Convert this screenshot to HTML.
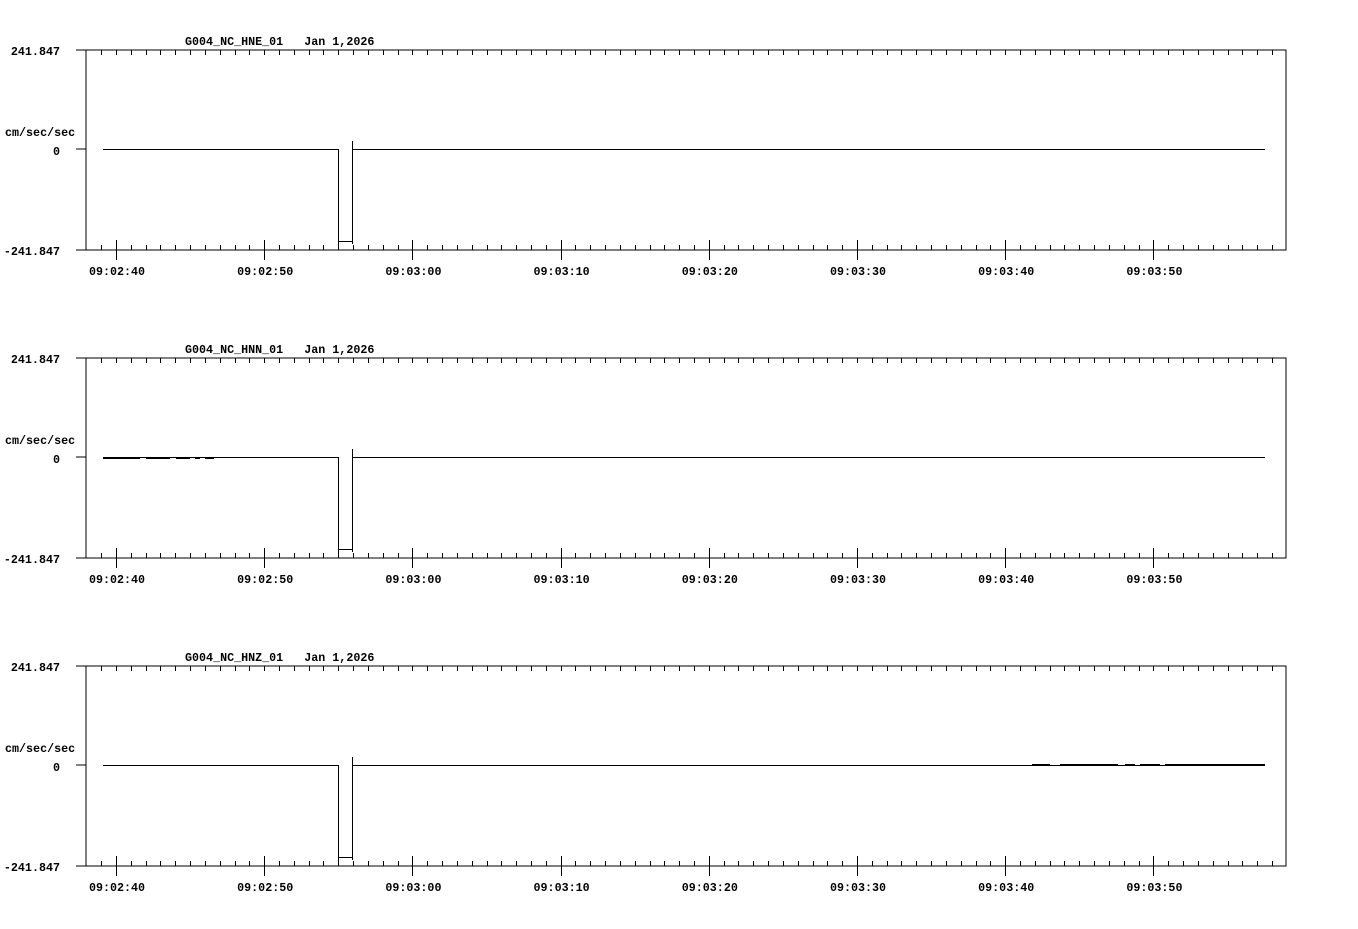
<!DOCTYPE html>
<html><head><style>
html,body{margin:0;padding:0;background:#fff;}
svg text{font-family:"Liberation Mono",monospace;font-size:11.7px;font-weight:bold;fill:#000;}
</style></head><body>
<svg id="s" width="1358" height="924" xmlns="http://www.w3.org/2000/svg" shape-rendering="crispEdges"></svg>
<script>
var s=document.getElementById('s'),h='';
var names=['HNE','HNN','HNZ'],labs=['09:02:40','09:02:50','09:03:00','09:03:10','09:03:20','09:03:30','09:03:40','09:03:50'];
for(var p=0;p<3;p++){
 var o=p*308,T=50+o,B=250+o,Z=149+o;
 h+='<text x="185" y="'+(45+o)+'" xml:space="preserve">G004_NC_'+names[p]+'_01   Jan 1,2026</text>';
 h+='<text x="60" y="'+(55+o)+'" text-anchor="end">241.847</text>';
 h+='<text x="60" y="'+(155+o)+'" text-anchor="end">0</text>';
 h+='<text x="60" y="'+(255+o)+'" text-anchor="end">-241.847</text>';
 h+='<text x="5" y="'+(136+o)+'">cm/sec/sec</text>';
 h+='<path d="M86 '+T+'V'+B+'H1286V'+T+'H86M76 '+T+'H86M76 '+Z+'H86M76 '+B+'H86" fill="none" stroke="#000"/>';
 var d='';
 for(var k=-2;k<80;k++){var x=Math.round(116+k*14.82)+.5;if(x<88||x>1285)continue;
  if(k%10==0){d+='M'+x+' '+(B-10)+'V'+(B+10);}else{d+='M'+x+' '+(B-5)+'V'+B;}
  d+='M'+x+' '+T+'V'+(T+5);}
 h+='<path d="'+d+'" stroke="#000" fill="none"/>';
 for(var i=0;i<8;i++){h+='<text x="'+(117+i*148.2)+'" y="'+(275+o)+'" text-anchor="middle">'+labs[i]+'</text>';}
 var bot=B-9;
 h+='<path d="M103 '+(Z+.5)+'H338.5V'+(bot+.5)+'H352.5V'+(Z-8)+'M352.5 '+(Z+.5)+'H1265M338.5 '+(bot-4)+'V'+(bot+5)+'M352.5 '+(bot-4)+'V'+(bot+3)+'" stroke="#000" fill="none"/>';
 if(p==1)h+='<path d="M103 '+(Z+1.5)+'H140M146 '+(Z+1.5)+'H170M176 '+(Z+1.5)+'H190M195 '+(Z+1.5)+'H200M205 '+(Z+1.5)+'H214" stroke="#000" fill="none"/>';
 if(p==2)h+='<path d="M1032 '+(Z-.5)+'H1050M1060 '+(Z-.5)+'H1118M1125 '+(Z-.5)+'H1135M1140 '+(Z-.5)+'H1160M1165 '+(Z-.5)+'H1265" stroke="#000" fill="none"/>';
}
s.innerHTML=h;
</script>
</body></html>
